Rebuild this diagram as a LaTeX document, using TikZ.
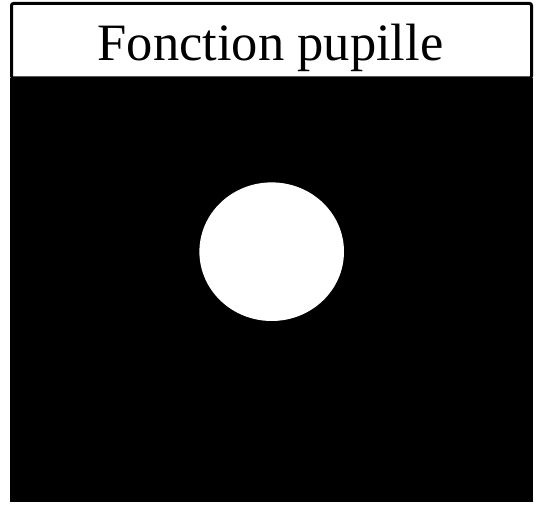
\documentclass[tikz,border=0pt]{standalone}
\usepackage{fontspec}
\setmainfont{Liberation Serif}
\begin{document}
\begin{tikzpicture}[x=1pt,y=1pt,
  titlebox/.style={draw=black,line width=3pt,rounded corners=2pt,fill=white},
  pupil/.style={fill=white,draw=none}]
\useasboundingbox (0,0) rectangle (539,505);
\fill[black] (10,3) rectangle (533,427);
\draw[titlebox] (11.5,501.5) rectangle (531.5,427);
\node[anchor=base,inner sep=0pt,font=\fontsize{52.5}{60}\selectfont] (title) at (270.5,444) {Fonction pupille};
\fill[pupil] (271.7,253.3) ellipse [x radius=72.3, y radius=69.3];
\end{tikzpicture}
\end{document}
